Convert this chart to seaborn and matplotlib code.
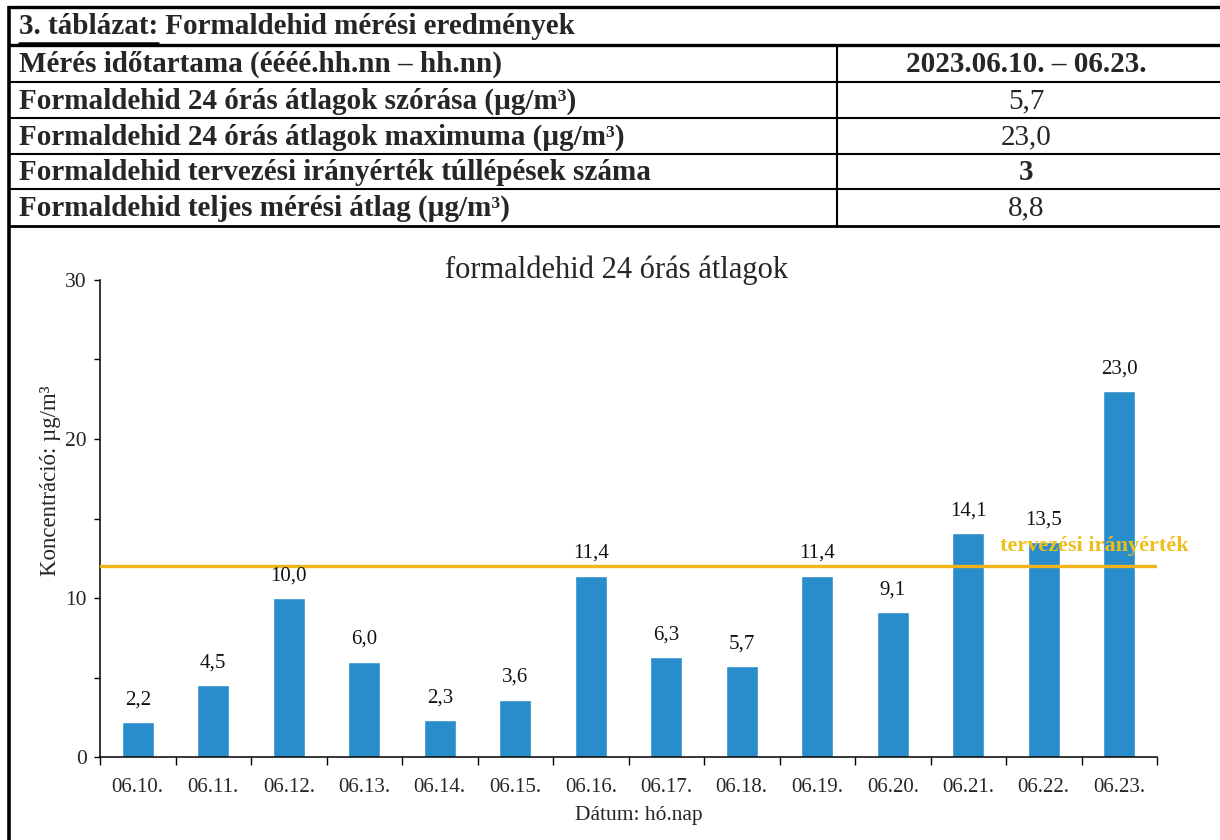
import matplotlib
matplotlib.use("Agg")
import matplotlib.pyplot as plt
import numpy as np
import pandas as pd
import seaborn as sns
from matplotlib.lines import Line2D

# ---- data -------------------------------------------------------------
dates = ["06.10.", "06.11.", "06.12.", "06.13.", "06.14.", "06.15.", "06.16.",
         "06.17.", "06.18.", "06.19.", "06.20.", "06.21.", "06.22.", "06.23."]
daily_means = [2.2, 4.5, 10.0, 6.0, 2.3, 3.6, 11.4, 6.3, 5.7, 11.4, 9.1, 14.1, 13.5, 23.0]
guide_value = 12.0
guide_label = "tervezési irányérték"

table_number = "3. táblázat:"
table_caption = " Formaldehid mérési eredmények"
row_labels = [
    "Mérés időtartama (éééé.hh.nn – hh.nn)",
    "Formaldehid 24 órás átlagok szórása (µg/m³)",
    "Formaldehid 24 órás átlagok maximuma (µg/m³)",
    "Formaldehid tervezési irányérték túllépések száma",
    "Formaldehid teljes mérési átlag (µg/m³)",
]
row_values = ["2023.06.10. – 06.23.", "5,7", "23,0", "3", "8,8"]
row_value_bold = [True, False, False, True, False]

chart_title = "formaldehid 24 órás átlagok"
y_label = "Koncentráció: µg/m³"
x_label = "Dátum: hó.nap"

# ---- style ------------------------------------------------------------
sns.set_theme(style="white")
plt.rcParams["font.family"] = ["Liberation Serif", "DejaVu Serif"]

W, H = 1220, 840
fig = plt.figure(figsize=(W / 100, H / 100), dpi=100)
fig.patch.set_facecolor("white")


def fx(px):
    return px / W


def fy(py):
    return 1 - py / H


def hline(y, x0, x1, lw):
    fig.add_artist(Line2D([fx(x0), fx(x1)], [fy(y), fy(y)],
                          transform=fig.transFigure, color="black", lw=lw,
                          solid_capstyle="butt"))


def vline(x, y0, y1, lw):
    fig.add_artist(Line2D([fx(x), fx(x)], [fy(y0), fy(y1)],
                          transform=fig.transFigure, color="black", lw=lw,
                          solid_capstyle="butt"))


# ---- results table ----------------------------------------------------
row_edges = [7, 45, 82, 118, 154, 189, 226]
col_split = 837
hline(row_edges[0], 8, W, 2.4)
hline(row_edges[1], 8, W, 2.4)
for y in row_edges[2:-1]:
    hline(y, 8, W, 1.5)
hline(row_edges[-1], 8, W, 2.0)
vline(8.5, 6, H, 2.6)
vline(col_split, row_edges[1], row_edges[-1], 1.5)

table_fs = 21
num_txt = fig.text(fx(19), fy(27), table_number, fontsize=table_fs,
                   fontweight="bold", ha="left", va="center")
renderer = fig.canvas.get_renderer()
bb = num_txt.get_window_extent(renderer)
fig.text(bb.x1 / W, fy(27), table_caption, fontsize=table_fs,
         fontweight="bold", ha="left", va="center")
fig.add_artist(Line2D([bb.x0 / W, bb.x1 / W], [fy(42.5), fy(42.5)],
                      transform=fig.transFigure, color="black", lw=1.8))

for i, (lab, val, bold) in enumerate(zip(row_labels, row_values, row_value_bold)):
    yc = (row_edges[i + 1] + row_edges[i + 2]) / 2 + 1
    fig.text(fx(19), fy(yc), lab, fontsize=table_fs, fontweight="bold",
             ha="left", va="center")
    fig.text(fx((col_split + W) / 2 - 2), fy(yc), val, fontsize=table_fs,
             fontweight="bold" if bold else "normal", ha="center", va="center")

# ---- bar chart --------------------------------------------------------
df = pd.DataFrame({"date": dates, "value": daily_means})

ax = fig.add_axes([fx(100), fy(757), fx(1157) - fx(100), fy(280) - fy(757)])
ax.set_facecolor("white")
sns.barplot(data=df, x="date", y="value", color="#2a8dcb", saturation=1,
            width=0.42, ax=ax, zorder=2)

ax.axhline(guide_value, color="#f2b418", lw=2.4, zorder=3)
ax.text(11.42, guide_value + 1.3, guide_label, color="#ecbf1a",
        fontsize=16, fontweight="bold", ha="left", va="center",
        clip_on=False, zorder=4)

for i, v in enumerate(daily_means):
    ax.text(i, v + 0.8, f"{v:.1f}".replace(".", ","), ha="center",
            va="bottom", fontsize=15, color="#111111", zorder=4)

ax.set_xlim(-0.5, len(dates) - 0.5)
ax.set_ylim(0, 30)

ax.set_xticks(np.arange(len(dates) + 1) - 0.5)
ax.set_xticklabels([])
ax.set_xticks(np.arange(len(dates)), minor=True)
ax.set_xticklabels(dates, minor=True, fontsize=15)
ax.tick_params(axis="x", which="major", direction="out", length=6,
               width=1, color="black", bottom=True)
ax.tick_params(axis="x", which="minor", length=0, pad=15, bottom=True)

ax.set_yticks([0, 10, 20, 30])
ax.set_yticklabels(["0", "10", "20", "30"], fontsize=15.5)
ax.set_yticks([5, 15, 25], minor=True)
ax.tick_params(axis="y", which="both", direction="out", length=4.5,
               width=1, color="black", left=True, pad=5)

for side in ("top", "right"):
    ax.spines[side].set_visible(False)
for side in ("left", "bottom"):
    ax.spines[side].set_color("black")
    ax.spines[side].set_linewidth(1.1)

ax.set_xlabel(x_label, fontsize=15.5)
ax.xaxis.set_label_coords(0.51, -0.102)
ax.set_ylabel(y_label, fontsize=16.5)
ax.yaxis.set_label_coords(-0.037, 0.58)
ax.grid(False)

fig.text(fx(617), fy(270), chart_title, fontsize=22, ha="center", va="center")

fig.savefig("out.png", dpi=100, facecolor="white")
